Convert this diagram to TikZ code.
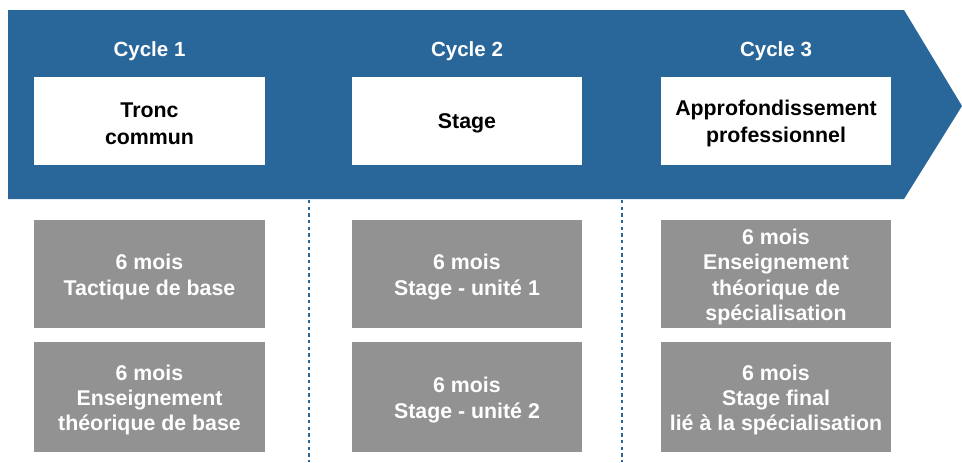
\documentclass[tikz,border=0pt]{standalone}
\usepackage{fontspec}
\setmainfont{Liberation Sans}
\usepackage{xcolor}
\usetikzlibrary{positioning}

\definecolor{cycleblue}{HTML}{29669A}
\definecolor{dureegrey}{HTML}{929292}

\tikzset{
	cycletitle/.style={font=\bfseries\fontsize{15.4}{19}\selectfont, text=white, inner sep=0pt},
	cyclebox/.style={fill=white, inner sep=0pt, minimum width=173pt, minimum height=66pt},
	cycletext/.style={font=\bfseries\fontsize{16}{19.8}\selectfont, text=black, align=center, inner sep=0pt},
	dureebox/.style={fill=dureegrey, inner sep=0pt, minimum width=173pt, minimum height=81pt},
	dureetext/.style={font=\bfseries\fontsize{16}{19}\selectfont, text=white, align=center, inner sep=0pt},
	separator/.style={cycleblue, line width=1.3pt, dash pattern=on 2.4pt off 2.6pt}
}

\begin{document}
\begin{tikzpicture}[x=0.75pt,y=-0.75pt]
	\useasboundingbox (0,0) rectangle (962,462);

	% arrow of the three cycles
	\coordinate (NW) at (8,10);
	\coordinate (NE) at (904,10);
	\coordinate (T) at (962,106); % tip
	\coordinate (SE) at (904,199);
	\coordinate (SW) at (8,199);
	\fill[cycleblue] (NW)--(NE)--(T)--(SE)--(SW)--cycle;

	\node[cycletitle] (c1) at (149.5,51.5) {Cycle 1};
	\node[cycletitle] (c2) at (467,51.5) {Cycle 2};
	\node[cycletitle] (c3) at (776,51.5) {Cycle 3};

	\node[cyclebox] (tronc) at (149.5,121) {};
	\node[cyclebox] (stage) at (467,121) {};
	\node[cyclebox] (appro) at (776,121) {};
	\node[cycletext] (tronc-t) at ([yshift=-2pt]tronc.center) {Tronc\\commun};
	\node[cycletext] (stage-t) at ([yshift=-2pt]stage.center) {Stage};
	\node[cycletext] (appro-t) at ([yshift=-2pt]appro.center) {Approfondissement\\professionnel};

	% separators
	\coordinate (s1a) at (309,200);
	\coordinate (s1b) at (309,462);
	\coordinate (s2a) at (622,200);
	\coordinate (s2b) at (622,462);
	\draw[separator] (s1a)--(s1b);
	\draw[separator] (s2a)--(s2b);

	\node[dureebox] (d11) at (149.5,274) {};
	\node[dureebox] (d21) at (467,274) {};
	\node[dureebox] (d31) at (776,274) {};
	\node[dureebox, minimum height=82.5pt] (d12) at (149.5,397) {};
	\node[dureebox, minimum height=82.5pt] (d22) at (467,397) {};
	\node[dureebox, minimum height=82.5pt] (d32) at (776,397) {};

	\node[dureetext] (d11-t) at ([yshift=-2.2pt]d11.center) {6 mois\\Tactique de base};
	\node[dureetext] (d21-t) at ([yshift=-2.2pt]d21.center) {6 mois\\Stage - unité 1};
	\node[dureetext] (d31-t) at ([yshift=-2.2pt]d31.center) {6 mois\\Enseignement\\théorique de\\spécialisation};
	\node[dureetext] (d12-t) at ([yshift=-2.2pt]d12.center) {6 mois\\Enseignement\\théorique de base};
	\node[dureetext] (d22-t) at ([yshift=-2.2pt]d22.center) {6 mois\\Stage - unité 2};
	\node[dureetext] (d32-t) at ([yshift=-2.2pt]d32.center) {6 mois\\Stage final\\lié à la spécialisation};
\end{tikzpicture}
\end{document}
